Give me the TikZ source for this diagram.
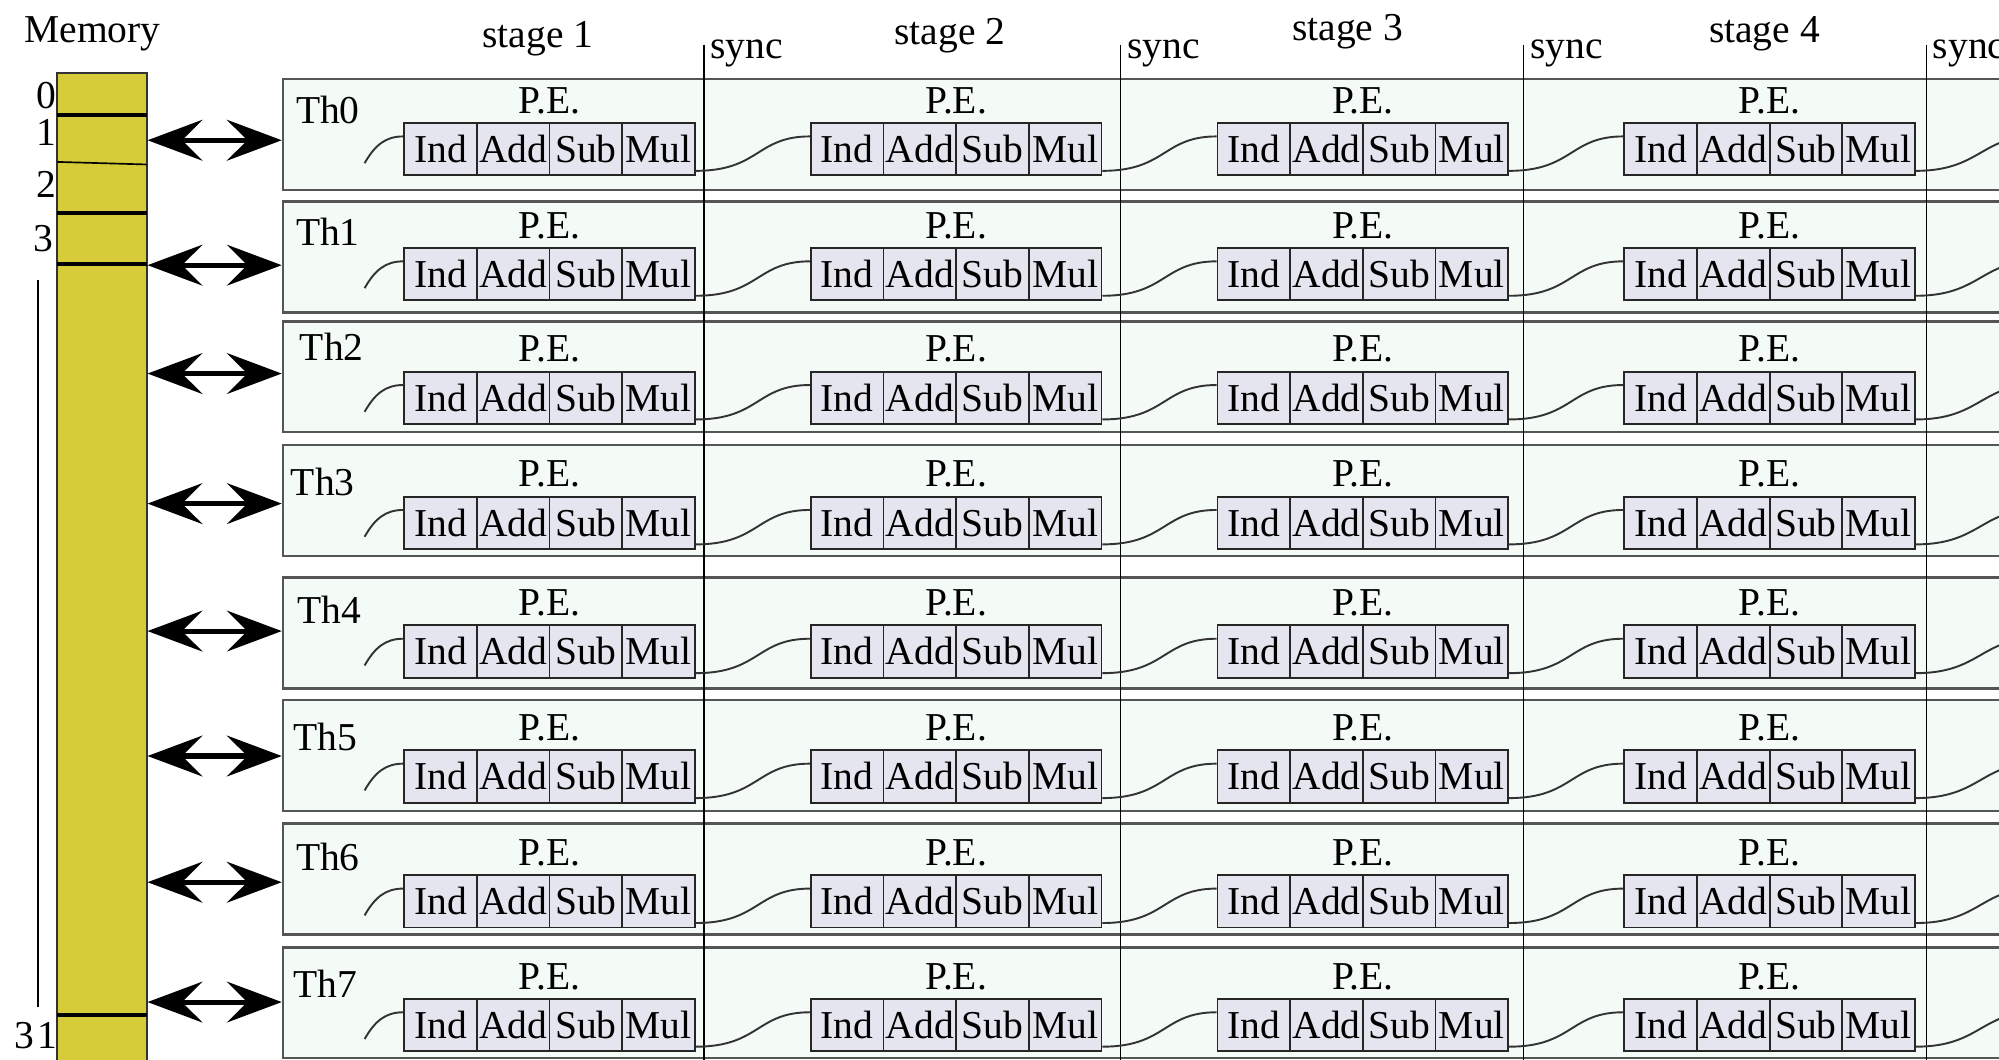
\documentclass[tikz,border=0pt]{standalone}
\usepackage{fontspec}
\setmainfont{Liberation Serif}
\usetikzlibrary{arrows.meta}
\definecolor{memyellow}{HTML}{D6CB38}
\definecolor{thfill}{HTML}{F4FBF7}
\definecolor{cellfill}{HTML}{E5E5EF}
\definecolor{boxline}{HTML}{555555}
\begin{document}
\begin{tikzpicture}[x=1pt,y=-1pt,font=\fontsize{31}{36}\selectfont,
  lbl/.style={inner sep=0pt,text=black},
  cell/.style={draw=black!85,fill=cellfill,line width=1.5pt,minimum width=57pt,minimum height=41pt,inner sep=0pt,text height=21pt,text depth=0pt},
  thbox/.style={draw=boxline,fill=thfill,line width=2pt,minimum width=1368pt,minimum height=87pt,inner sep=0pt},
  syncline/.style={line width=1.3pt,draw=black},
  link/.style={line width=1.5pt,draw=black!80},
  memline/.style={line width=3pt,draw=black},
  memarrow/.style={line width=4pt,{Stealth[length=43pt,width=32pt,inset=16pt]}-{Stealth[length=43pt,width=32pt,inset=16pt]}}]
\useasboundingbox (0,0) rectangle (1568,831);
\fill[white] (0,0) rectangle (1568,831);

% memory column
\node[lbl,anchor=base west] (memtitle) at (19,33) {Memory};
\node[draw=black!80,fill=memyellow,line width=1.5pt,minimum width=70pt,minimum height=783pt,inner sep=0pt] (mem) at (80,448.5) {};
\draw[memline] (45,90) -- (115,90);
\draw[line width=1.3pt] (45,127) -- (115,129);
\draw[memline] (45,167) -- (115,167);
\draw[memline] (45,207) -- (115,207);
\draw[memline] (45,796) -- (115,796);
\draw[line width=1.5pt] (30,220) -- (30,790);
\node[lbl] (m0) at (36,75) {0};
\node[lbl] (m1) at (36,104) {1};
\node[lbl] (m2) at (36,145) {2};
\node[lbl] (m3) at (34,187) {3};
\node[lbl] (m31) at (28,812) {3\kern3pt 1};

% stage labels
\node[lbl,anchor=base] (st1) at (422,37) {stage 1};
\node[lbl,anchor=base] (st2) at (745,35) {stage 2};
\node[lbl,anchor=base] (st3) at (1057,32) {stage 3};
\node[lbl,anchor=base] (st4) at (1384,33) {stage 4};

% thread boxes
\foreach \r/\rt/\thy/\ay/\thx in {0/62/86/110/232,1/158/182/208/232,2/252/272/293/235,3/349/378/395/228,4/453/478/495/233,5/549/578/593/230,6/646/672/692/232,7/743/772/786/230}{
  \node[thbox] (th\r) at (906,\rt+43.5) {};
  \node[lbl,anchor=west] (thl\r) at (\thx,\thy) {Th\r};
  \coordinate (a\r) at (0,\ay);
  \draw[memarrow] (mem.east |- a\r) -- (th\r.west |- a\r);
}

% sync lines
\foreach \sx [count=\i] in {552,879,1195,1511}{
  \draw[syncline] (\sx,35) -- (\sx,845);
  \node[lbl,anchor=base west] (sync\i) at (\sx+5,46) {sync};
}

% processing elements
\foreach \r/\cy in {0/117,1/215,2/312,3/410,4/511,5/609,6/707,7/804}{
  \foreach \s/\lx in {1/317,2/636,3/955,4/1274}{
    \foreach \k/\t in {0/Ind,1/Add,2/Sub,3/Mul}{
      \node[cell] (c\r-\s-\k) at ({\lx+28.5+57*\k},\cy) {\t};
    }
    \node[lbl] (pe\r-\s) at ({\lx+114},\cy-38) {P.E.};
  }
  \coordinate (st\r) at (286,\cy+11);
  \draw[link] (st\r) .. controls +(8,-14) and +(-14,0) .. ([yshift=10pt]c\r-1-0.west);
  \foreach \p/\s in {1/2,2/3,3/4}{
    \draw[link] ([yshift=-17pt]c\r-\p-3.east) .. controls +(50,0) and +(-42,0) .. ([yshift=10pt]c\r-\s-0.west);
  }
  \coordinate (nx\r) at (1596,\cy-10);
  \draw[link] ([yshift=-17pt]c\r-4-3.east) .. controls +(50,0) and +(-42,0) .. (nx\r);
}
\end{tikzpicture}
\end{document}
